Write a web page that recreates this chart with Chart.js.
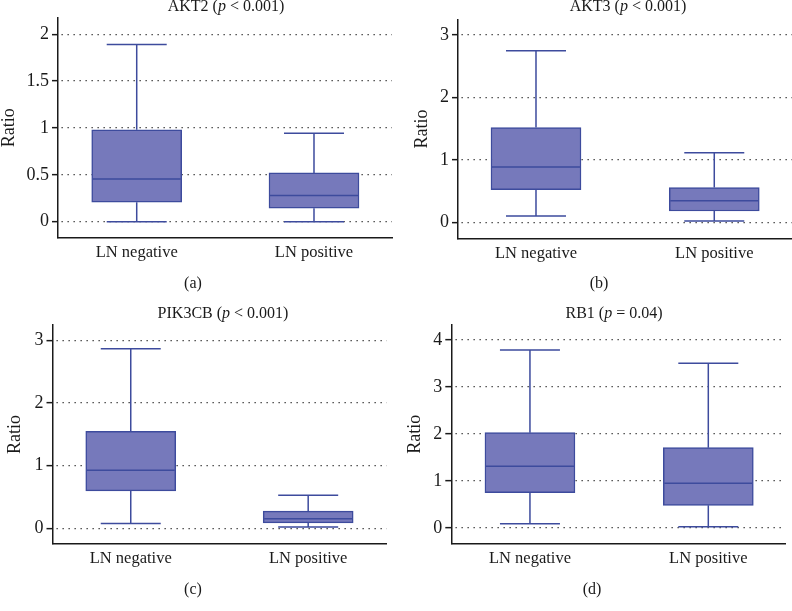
<!DOCTYPE html>
<html>
<head>
<meta charset="utf-8">
<script src="https://cdn.jsdelivr.net/npm/chart.js@4.4.0/dist/chart.umd.min.js"></script>
<style>
  body { margin: 0; background: #fff; }
  #fig { position: relative; width: 792px; height: 611px; overflow: hidden;
         font-family: "Liberation Serif", "DejaVu Serif", serif; color: #1a1a1a; }
  canvas { position: absolute; }
  .ttl, .sub { position: absolute; font-size: 16px; line-height: 16px; white-space: nowrap; transform: translateX(-50%); }
</style>
</head>
<body>
<div id="fig">
  <canvas id="akt2" width="396" height="300" style="left:0;top:0"></canvas>
  <canvas id="akt3" width="396" height="300" style="left:396px;top:0"></canvas>
  <canvas id="pik3cb" width="396" height="311" style="left:0;top:300px"></canvas>
  <canvas id="rb1" width="396" height="311" style="left:396px;top:300px"></canvas>

  <div class="ttl" style="left:226px;top:-2px">AKT2 (<i>p</i> &lt; 0.001)</div>
  <div class="ttl" style="left:628px;top:-2px">AKT3 (<i>p</i> &lt; 0.001)</div>
  <div class="ttl" style="left:223px;top:305px">PIK3CB (<i>p</i> &lt; 0.001)</div>
  <div class="ttl" style="left:614px;top:305px">RB1 (<i>p</i> = 0.04)</div>

  <div class="sub" style="left:193px;top:275px">(a)</div>
  <div class="sub" style="left:599px;top:275px">(b)</div>
  <div class="sub" style="left:193px;top:581px">(c)</div>
  <div class="sub" style="left:592px;top:581px">(d)</div>
</div>
<script>
// groups on the x axis
const groups = ['LN negative', 'LN positive'];

// box stats per group: [min, Q1, median, Q3, max]
const akt2Neg = [0, 0.207, 0.455, 0.98, 1.89];
const akt2Pos = [0, 0.143, 0.28, 0.52, 0.945];
const akt3Neg = [0.10, 0.522, 0.886, 1.516, 2.745];
const akt3Pos = [0.02, 0.18, 0.343, 0.555, 1.115];
const pik3cbNeg = [0.075, 0.596, 0.927, 1.545, 2.865];
const pik3cbPos = [0.02, 0.085, 0.15, 0.272, 0.527];
const rb1Neg = [0.092, 0.752, 1.312, 2.028, 3.787];
const rb1Pos = [0.028, 0.482, 0.95, 1.709, 3.504];

// y tick labels
const akt2Ticks = [0, 0.5, 1, 1.5, 2];
const akt3Ticks = [0, 1, 2, 3];
const pik3cbTicks = [0, 1, 2, 3];
const rb1Ticks = [0, 1, 2, 3, 4];

const boxFill = '#7679bb';
const boxLine = '#3d4b9d';
const ink = '#1a1a1a';
const serif = '"Liberation Serif", "DejaVu Serif", serif';

// median line, whiskers and caps from the same y scale as the boxes
const whiskers = {
  id: 'whiskers',
  afterDatasetsDraw(chart) {
    const ctx = chart.ctx;
    const y = chart.scales.y;
    const stats = chart.data.datasets[0].stats;
    chart.getDatasetMeta(0).data.forEach((bar, i) => {
      const [lo, q1, med, q3, hi] = stats[i].map(v => y.getPixelForValue(v));
      const half = bar.width / 2;
      const cap = bar.width / 3;
      ctx.save();
      ctx.strokeStyle = boxLine;
      ctx.lineWidth = 1.5;
      ctx.beginPath();
      ctx.moveTo(bar.x, q3); ctx.lineTo(bar.x, hi);
      ctx.moveTo(bar.x, q1); ctx.lineTo(bar.x, lo);
      ctx.moveTo(bar.x - cap, hi); ctx.lineTo(bar.x + cap, hi);
      ctx.moveTo(bar.x - cap, lo); ctx.lineTo(bar.x + cap, lo);
      ctx.moveTo(bar.x - half + 1, med); ctx.lineTo(bar.x + half - 1, med);
      ctx.stroke();
      ctx.restore();
    });
  }
};

function boxChart(id, neg, pos, yMin, yMax, yTicks, g) {
  const boxes = [neg, pos];
  return new Chart(document.getElementById(id), {
    type: 'bar',
    data: {
      datasets: [{
        data: boxes.map((b, i) => ({ x: i + 1, y: [b[1], b[3]] })),
        stats: boxes,
        backgroundColor: boxFill,
        borderColor: boxLine,
        borderWidth: 1.5,
        borderSkipped: false,
        barThickness: 90
      }]
    },
    options: {
      responsive: false,
      animation: false,
      layout: { padding: { left: 0, top: g.top, right: g.right, bottom: g.bottom } },
      plugins: { legend: { display: false }, tooltip: { enabled: false } },
      scales: {
        x: {
          type: 'linear',
          offset: false,
          min: g.xMin,
          max: g.xMax,
          afterBuildTicks: s => { s.ticks = groups.map((_, i) => ({ value: i + 1 })); },
          ticks: { callback: v => groups[v - 1], color: ink, font: { family: serif, size: 16.5 }, padding: 5, autoSkip: false, maxRotation: 0 },
          grid: { display: false, drawTicks: false, offset: false },
          border: { display: true, color: ink, width: 1.5 },
          afterFit: s => { s.height = 30; }
        },
        y: {
          min: yMin,
          max: yMax,
          afterBuildTicks: s => { s.ticks = yTicks.map(v => ({ value: v })); },
          ticks: { callback: v => String(v), color: ink, font: { family: serif, size: 18 }, padding: 3 },
          grid: { color: '#333', lineWidth: 1.3, tickLength: 6, tickColor: ink, tickWidth: 1.5, tickBorderDash: [] },
          border: { display: true, color: ink, width: 1.5, dash: [1.3, 4.7], dashOffset: -3 },
          title: { display: true, text: 'Ratio', color: ink, font: { family: serif, size: 18, lineHeight: 1 }, padding: { top: g.titlePad, bottom: 0 } },
          afterFit: s => { s.width = g.left; }
        }
      }
    },
    plugins: [whiskers]
  });
}

boxChart('akt2', akt2Neg, akt2Pos, -0.169, 2.174, akt2Ticks,
  { left: 58, top: 18, right: 4, bottom: 32.5, xMin: 0.556, xMax: 2.44, titlePad: 0 });
boxChart('akt3', akt3Neg, akt3Pos, -0.26, 3.25, akt3Ticks,
  { left: 62, top: 19.3, right: 0, bottom: 31.5, xMin: 0.5625, xMax: 2.436, titlePad: 17 });
boxChart('pik3cb', pik3cbNeg, pik3cbPos, -0.252, 3.244, pik3cbTicks,
  { left: 52.5, top: 25, right: 9.3, bottom: 37, xMin: 0.559, xMax: 2.4425, titlePad: 6 });
boxChart('rb1', rb1Neg, rb1Pos, -0.326, 4.32, rb1Ticks,
  { left: 55.3, top: 25, right: 7, bottom: 37.7, xMin: 0.559, xMax: 2.43, titlePad: 10 });
</script>
</body>
</html>
